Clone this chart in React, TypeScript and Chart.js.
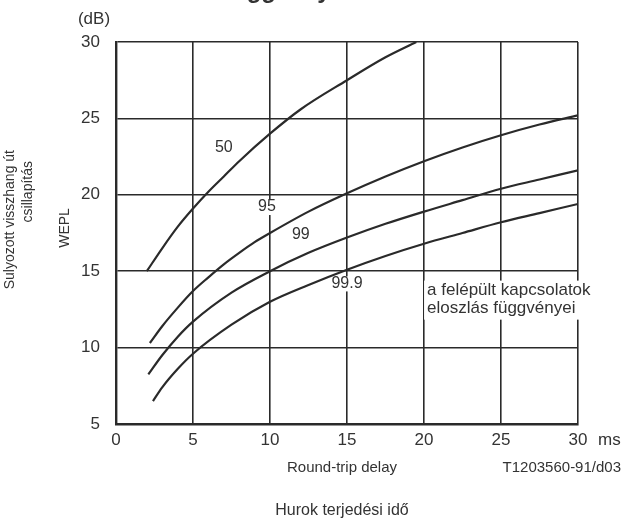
import React, { useEffect, useRef } from "react";
import { Chart, registerables } from "chart.js";

Chart.register(...registerables);

// ---- data ----
const xTicks = [0, 5, 10, 15, 20, 25, 30];
const yTicks = [5, 10, 15, 20, 25, 30];

const c50X = [2, 3, 4, 5, 6, 7, 8, 10, 12, 15, 17.5, 19.5];
const c50Y = [15, 16.5, 17.9, 19.1, 20.2, 21.2, 22.2, 24.0, 25.6, 27.5, 29.0, 30.0];

const c95X = [2.2, 3, 4, 5, 6, 7, 8, 9, 10, 12.5, 15, 17.5, 20, 22.5, 25, 27.5, 30];
const c95Y = [10.3, 11.4, 12.6, 13.7, 14.6, 15.45, 16.2, 16.9, 17.5, 18.9, 20.1, 21.2, 22.2, 23.1, 23.9, 24.6, 25.2];

const c99X = [2.1, 3, 4, 5, 7.5, 10, 12.5, 15, 17.5, 20, 22.5, 25, 27.5, 30];
const c99Y = [8.25, 9.5, 10.7, 11.7, 13.6, 15.0, 16.2, 17.2, 18.1, 18.9, 19.65, 20.4, 21.0, 21.6];

const c999X = [2.4, 3, 4, 5, 7.5, 10, 12.5, 15, 17.5, 20, 22.5, 25, 27.5, 30];
const c999Y = [6.5, 7.4, 8.6, 9.6, 11.5, 13.0, 14.1, 15.1, 16.0, 16.8, 17.5, 18.2, 18.8, 19.4];

const curveNames = ["50", "95", "99", "99.9"];
const curveLabelX = [7.0, 9.8, 12.0, 15.0];
const curveLabelY = [23.1, 19.2, 17.4, 14.2];

const noteLines = ["a felépült kapcsolatok", "eloszlás függvényei"];
const noteX = 20.2;
const noteY = [13.73, 12.55];

const yUnit = "(dB)";
const xUnit = "ms";
const yTitleLines = ["Sulyozott visszhang út", "csillapítás"];
const yTitleShort = "WEPL";
const xTitleEn = "Round-trip delay";
const xTitleHu = "Hurok terjedési idő";
const figCode = "T1203560-91/d03";
const topFragment = "függvényei";

const FONT = "'Liberation Sans', Arial, Helvetica, sans-serif";
const INK = "#2a2a2a";
const TXT = "#333333";

const toPts = (xs: number[], ys: number[]) => xs.map((x, i) => ({ x, y: ys[i] }));

const overlay = {
  id: "overlay",
  beforeDatasetsDraw(chart: any) {
    const ctx = chart.ctx;
    const xs = chart.scales.x;
    const ys = chart.scales.y;
    ctx.save();
    ctx.fillStyle = "#ffffff";
    ctx.font = `16px ${FONT}`;
    curveNames.forEach((n, i) => {
      const px = xs.getPixelForValue(curveLabelX[i]);
      const py = ys.getPixelForValue(curveLabelY[i]);
      const w = ctx.measureText(n).width;
      ctx.fillRect(px - w / 2 - 2, py - 7, w + 4, 15);
    });
    ctx.font = `17px ${FONT}`;
    const nx = xs.getPixelForValue(noteX);
    const w = Math.max(...noteLines.map((l) => ctx.measureText(l).width));
    const y0 = ys.getPixelForValue(noteY[0]);
    const y1 = ys.getPixelForValue(noteY[1]);
    ctx.fillRect(nx - 3, y0 - 10, w + 6, y1 - y0 + 21);
    ctx.restore();
  },
  afterDraw(chart: any) {
    const ctx = chart.ctx;
    const xs = chart.scales.x;
    const ys = chart.scales.y;
    const area = chart.chartArea;
    ctx.save();
    ctx.fillStyle = TXT;
    ctx.textBaseline = "middle";

    ctx.font = `16px ${FONT}`;
    ctx.textAlign = "center";
    curveNames.forEach((n, i) => {
      ctx.fillText(n, xs.getPixelForValue(curveLabelX[i]), ys.getPixelForValue(curveLabelY[i]));
    });

    ctx.font = `17px ${FONT}`;
    ctx.textAlign = "left";
    noteLines.forEach((l, i) => {
      ctx.fillText(l, xs.getPixelForValue(noteX), ys.getPixelForValue(noteY[i]));
    });

    ctx.font = `17px ${FONT}`;
    ctx.textAlign = "center";
    ctx.fillText(yUnit, area.left - 22, area.top - 23);
    ctx.textAlign = "left";
    ctx.fillText(xUnit, xs.getPixelForValue(30) + 20, area.bottom + 16);

    ctx.font = `15px ${FONT}`;
    ctx.textAlign = "center";
    ctx.fillText(xTitleEn, 342, area.bottom + 44);
    ctx.textAlign = "right";
    ctx.fillText(figCode, 621, area.bottom + 44);
    ctx.font = `16px ${FONT}`;
    ctx.textAlign = "center";
    ctx.fillText(xTitleHu, 342, area.bottom + 87);

    ctx.font = `14px ${FONT}`;
    ctx.save();
    ctx.translate(10, 150);
    ctx.rotate(-Math.PI / 2);
    ctx.textAlign = "right";
    ctx.fillText(yTitleLines[0], 0, 0);
    ctx.restore();
    ctx.save();
    ctx.translate(28, 161);
    ctx.rotate(-Math.PI / 2);
    ctx.textAlign = "right";
    ctx.fillText(yTitleLines[1], 0, 0);
    ctx.restore();
    ctx.save();
    ctx.translate(65, 228);
    ctx.rotate(-Math.PI / 2);
    ctx.textAlign = "center";
    ctx.fillText(yTitleShort, 0, 0);
    ctx.restore();

    ctx.font = `bold 24px ${FONT}`;
    ctx.textAlign = "left";
    ctx.textBaseline = "alphabetic";
    ctx.fillText(topFragment, 224, -2);

    ctx.restore();
  },
};

export default function App() {
  const ref = useRef<HTMLCanvasElement | null>(null);

  useEffect(() => {
    if (!ref.current) return;
    const ds = (xs: number[], ys: number[]) => ({
      data: toPts(xs, ys),
      borderColor: INK,
      borderWidth: 2.2,
      pointRadius: 0,
      fill: false,
      cubicInterpolationMode: "monotone" as const,
    });
    const chart = new Chart(ref.current, {
      type: "line",
      data: {
        datasets: [ds(c50X, c50Y), ds(c95X, c95Y), ds(c99X, c99Y), ds(c999X, c999Y)],
      },
      options: {
        animation: false,
        responsive: false,
        maintainAspectRatio: false,
        layout: { padding: { left: 0, right: 46, top: 42, bottom: 0 } },
        plugins: { legend: { display: false }, tooltip: { enabled: false } },
        scales: {
          x: {
            type: "linear",
            min: 0,
            max: 30,
            afterBuildTicks: (s: any) => {
              s.ticks = xTicks.map((v) => ({ value: v }));
            },
            afterFit: (s: any) => {
              s.height = 95;
            },
            grid: { color: INK, lineWidth: 1.6, drawTicks: false },
            border: { color: INK, width: 2.4 },
            ticks: { color: TXT, font: { family: FONT, size: 17 }, padding: 6, maxRotation: 0 },
          },
          y: {
            type: "linear",
            min: 5,
            max: 30,
            afterBuildTicks: (s: any) => {
              s.ticks = yTicks.map((v) => ({ value: v }));
            },
            afterFit: (s: any) => {
              s.width = 116;
            },
            grid: { color: INK, lineWidth: 1.6, drawTicks: false },
            border: { color: INK, width: 2.4 },
            ticks: { color: TXT, font: { family: FONT, size: 17 }, padding: 16 },
          },
        },
      },
      plugins: [overlay],
    });
    return () => chart.destroy();
  }, []);

  return (
    <div style={{ position: "absolute", left: 0, top: 0, width: 624, height: 519, background: "#fff" }}>
      <canvas ref={ref} width={624} height={519} style={{ display: "block" }} />
    </div>
  );
}
